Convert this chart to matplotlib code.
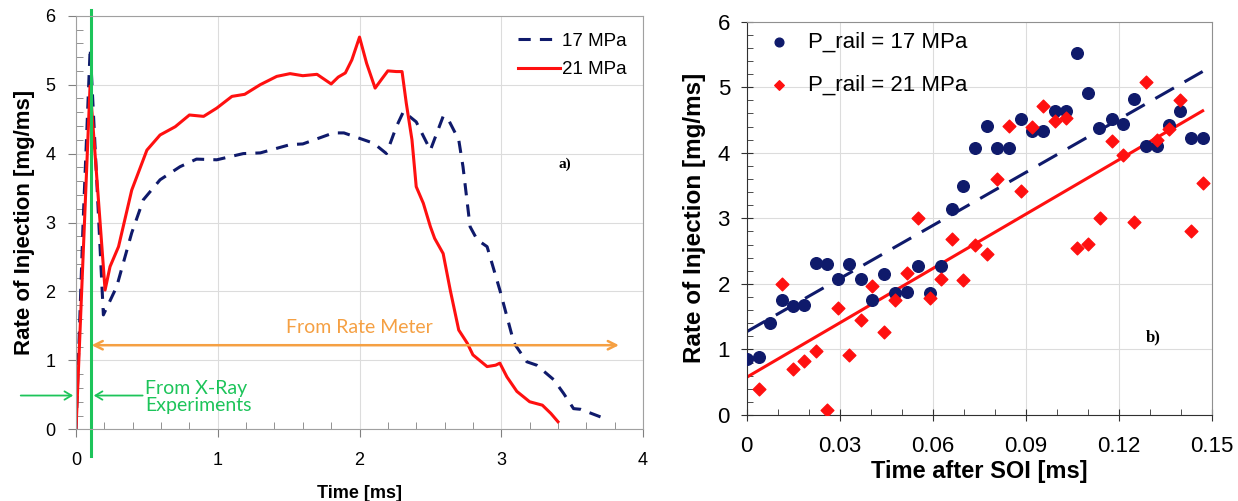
import matplotlib
matplotlib.use("Agg")
import matplotlib.pyplot as plt
import numpy as np
from matplotlib.ticker import MultipleLocator

# ---------------- data: panel a) ----------------
t17 = [0.0, 0.05, 0.1, 0.193, 0.287, 0.393, 0.475, 0.593, 0.734, 0.85, 0.993, 1.18, 1.30,
       1.51, 1.60, 1.816, 1.89, 2.10, 2.19, 2.26, 2.31, 2.40, 2.50, 2.59, 2.62, 2.70, 2.73,
       2.78, 2.83, 2.90, 2.99, 3.09, 3.18, 3.25, 3.37, 3.44, 3.51, 3.56, 3.70]
r17 = [0.0, 3.0, 5.53, 1.66, 2.07, 2.85, 3.33, 3.62, 3.81, 3.92, 3.91, 4.0, 4.01,
       4.13, 4.14, 4.30, 4.30, 4.15, 4.0, 4.39, 4.61, 4.46, 4.05, 4.54, 4.52, 4.20, 3.81,
       2.94, 2.75, 2.65, 2.02, 1.25, 0.98, 0.93, 0.72, 0.52, 0.30, 0.29, 0.18]
t21 = [0.0, 0.099, 0.205, 0.24, 0.30, 0.393, 0.50, 0.593, 0.70, 0.80, 0.90, 0.993, 1.10,
       1.19, 1.30, 1.416, 1.51, 1.60, 1.70, 1.80, 1.85, 1.90, 1.946, 2.0, 2.05, 2.11, 2.16,
       2.20, 2.26, 2.30, 2.33, 2.37, 2.40, 2.45, 2.50, 2.53, 2.59, 2.64, 2.70, 2.76, 2.80,
       2.90, 2.96, 2.99, 3.04, 3.11, 3.20, 3.29, 3.35, 3.40]
r21 = [0.0, 4.98, 2.02, 2.36, 2.65, 3.47, 4.05, 4.27, 4.39, 4.56, 4.54, 4.66, 4.83,
       4.86, 5.0, 5.12, 5.16, 5.13, 5.15, 5.01, 5.11, 5.17, 5.36, 5.69, 5.31, 4.95, 5.09,
       5.2, 5.19, 5.19, 4.73, 4.20, 3.52, 3.28, 2.94, 2.77, 2.55, 2.02, 1.44, 1.25, 1.08,
       0.91, 0.93, 0.96, 0.76, 0.55, 0.40, 0.35, 0.23, 0.11]

# ---------------- data: panel b) ----------------
soi17 = [0.0, 0.004, 0.0075, 0.0113, 0.0148, 0.0186, 0.0224, 0.026, 0.0296, 0.0331, 0.0369,
         0.0405, 0.0443, 0.0478, 0.0516, 0.0554, 0.0591, 0.0627, 0.0661, 0.0699, 0.0736,
         0.0774, 0.0808, 0.0846, 0.0884, 0.0919, 0.0957, 0.0995, 0.103, 0.1067, 0.110,
         0.1137, 0.1177, 0.1215, 0.125, 0.1287, 0.1325, 0.1362, 0.1398, 0.1433, 0.1471]
roi17 = [0.85, 0.88, 1.41, 1.75, 1.67, 1.68, 2.32, 2.31, 2.07, 2.31, 2.07,
         1.76, 2.15, 1.86, 1.87, 2.28, 1.86, 2.28, 3.15, 3.49, 4.08,
         4.41, 4.08, 4.08, 4.51, 4.34, 4.34, 4.64, 4.64, 5.53, 4.91,
         4.38, 4.52, 4.44, 4.82, 4.11, 4.11, 4.42, 4.64, 4.23, 4.23]
soi21 = [0.004, 0.0113, 0.0148, 0.0186, 0.0224, 0.026, 0.0296, 0.0331, 0.0369, 0.0405,
         0.0443, 0.0478, 0.0516, 0.0554, 0.0591, 0.0627, 0.0661, 0.0699, 0.0736, 0.0774,
         0.0808, 0.0846, 0.0884, 0.0919, 0.0957, 0.0995, 0.103, 0.1067, 0.110, 0.114,
         0.1177, 0.1215, 0.125, 0.1287, 0.1325, 0.1362, 0.1398, 0.1433, 0.1471]
roi21 = [0.39, 2.0, 0.70, 0.83, 0.97, 0.07, 1.63, 0.92, 1.45, 1.97,
         1.26, 1.75, 2.16, 3.0, 1.78, 2.07, 2.68, 2.06, 2.59, 2.46,
         3.60, 4.41, 3.41, 4.40, 4.72, 4.49, 4.53, 2.54, 2.61, 3.0,
         4.18, 3.97, 2.95, 5.08, 4.20, 4.36, 4.81, 2.81, 3.54]
# trend lines (endpoints)
trend_x = [0.0, 0.1471]
trend17 = [1.27, 5.24]
trend21 = [0.575, 4.64]

NAVY = "#0f1a6b"
RED = "#ff1010"
ORANGE = "#f5a043"
GREEN = "#1dc45a"
GRIDC = "#dcdcdc"

plt.rcParams["font.family"] = ["Liberation Sans", "DejaVu Sans"]

fig = plt.figure(figsize=(12.38, 5.01), dpi=100)
ax1 = fig.add_axes([0.0614, 0.1431, 0.458, 0.8255])
ax2 = fig.add_axes([0.6031, 0.1717, 0.3756, 0.785])

# ---------------- panel a ----------------
ax1.plot(t17, r17, color=NAVY, lw=2.2, ls=(0, (4, 3)), label="17 MPa")
ax1.plot(t21, r21, color=RED, lw=2.2, label="21 MPa")
ax1.set_xlim(0, 4)
ax1.set_ylim(0, 6)
ax1.xaxis.set_major_locator(MultipleLocator(1))
ax1.xaxis.set_minor_locator(MultipleLocator(0.2))
ax1.yaxis.set_major_locator(MultipleLocator(1))
ax1.yaxis.set_minor_locator(MultipleLocator(0.2))
ax1.grid(True, which="major", color=GRIDC, lw=0.8)
ax1.set_axisbelow(True)
for s in ax1.spines.values():
    s.set_color("#a0a0a0")
ax1.tick_params(which="major", direction="out", length=6, color="#808080", labelsize=13)
ax1.tick_params(axis="x", which="major", pad=10)
ax1.tick_params(axis="y", which="major", pad=9)
ax1.tick_params(which="minor", direction="in", length=5, color="#808080")
ax1.set_xlabel("Time [ms]", fontsize=13, fontweight="bold", labelpad=12)
ax1.set_ylabel("Rate of Injection [mg/ms]", fontsize=16, fontweight="bold", labelpad=7)
ax1.legend(loc="upper right", fontsize=13.5, frameon=False, handlelength=2.2,
           handletextpad=0.1, borderaxespad=0.5, labelspacing=0.6)

# X-ray boundary line
ax1.plot([0.106, 0.106], [-0.38, 6.08], color=GREEN, lw=2.2, clip_on=False)
# rate meter arrow (double headed)
ax1.annotate("", xy=(3.83, 1.22), xytext=(0.11, 1.22),
             arrowprops=dict(arrowstyle="<->,head_length=0.6,head_width=0.3", color=ORANGE,
                             lw=1.8, shrinkA=0, shrinkB=0))
ax1.text(2.0, 1.48, "From Rate Meter", color=ORANGE, fontsize=14, ha="center", va="center",
         family=["Lato", "DejaVu Sans"])
# X-ray arrows
ax1.annotate("", xy=(-0.02, 0.49), xytext=(-0.39, 0.49), annotation_clip=False,
             arrowprops=dict(arrowstyle="->,head_length=0.5,head_width=0.3", color=GREEN, lw=1.3,
                             shrinkA=0, shrinkB=0))
ax1.annotate("", xy=(0.125, 0.49), xytext=(0.47, 0.49), annotation_clip=False,
             arrowprops=dict(arrowstyle="->,head_length=0.5,head_width=0.3", color=GREEN, lw=1.3,
                             shrinkA=0, shrinkB=0))
ax1.text(0.49, 0.47, "From X-Ray\nExperiments", color=GREEN, fontsize=14, ha="left", va="center",
         linespacing=1.0, family=["Lato", "DejaVu Sans"])
ax1.text(3.45, 3.85, "a)", fontsize=11, fontweight="bold", ha="center", va="center",
         family=["Liberation Serif", "DejaVu Serif"])

# ---------------- panel b ----------------
ax2.plot(trend_x, trend17, color=NAVY, lw=2.2, ls=(0, (7, 4)))
ax2.plot(trend_x, trend21, color=RED, lw=2.2)
ax2.scatter(soi17, roi17, s=70, color=NAVY, marker="o", zorder=3, label="P_rail = 17 MPa")
ax2.scatter(soi21, roi21, s=42, color=RED, marker="D", zorder=3, label="P_rail = 21 MPa")
ax2.set_xlim(0, 0.15)
ax2.set_ylim(0, 6)
ax2.xaxis.set_major_locator(MultipleLocator(0.03))
ax2.xaxis.set_minor_locator(MultipleLocator(0.01))
ax2.yaxis.set_major_locator(MultipleLocator(1))
ax2.yaxis.set_minor_locator(MultipleLocator(0.2))
ax2.set_xticks([0, 0.03, 0.06, 0.09, 0.12, 0.15])
ax2.set_xticklabels(["0", "0.03", "0.06", "0.09", "0.12", "0.15"])
ax2.grid(True, which="major", color=GRIDC, lw=0.8)
ax2.set_axisbelow(True)
for s in ax2.spines.values():
    s.set_color("#909090")
ax2.spines["left"].set_color("#303030")
ax2.spines["bottom"].set_color("#303030")
ax2.tick_params(which="major", direction="inout", length=8, color="#303030", labelsize=16, pad=8)
ax2.tick_params(axis="x", which="major", pad=11)
ax2.tick_params(which="minor", direction="in", length=4, color="#303030")
ax2.set_xlabel("Time after SOI [ms]", fontsize=17, fontweight="bold", labelpad=2)
ax2.set_ylabel("Rate of Injection [mg/ms]", fontsize=17.5, fontweight="bold", labelpad=8)
ax2.legend(loc="upper left", fontsize=16, frameon=False, handletextpad=0.3,
           labelspacing=1.0, borderaxespad=0.15, markerscale=0.75, borderpad=0.3)
ax2.text(0.1313, 1.19, "b)", fontsize=12, fontweight="bold", ha="center", va="center",
         family=["Liberation Serif", "DejaVu Serif"])

fig.savefig("out.png", dpi=100)
